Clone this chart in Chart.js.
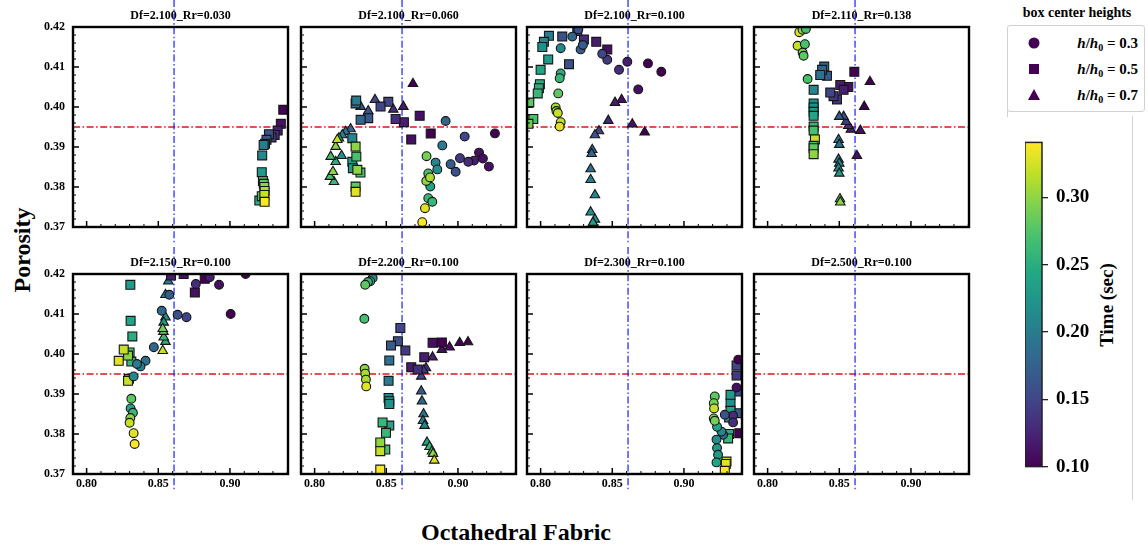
<!DOCTYPE html>
<html lang="en">
<head>
<meta charset="UTF-8">
<title>Porosity vs Octahedral Fabric</title>
<script src="https://cdn.jsdelivr.net/npm/chart.js"></script>
<style>
  body {
    margin: 0;
    width: 1148px;
    height: 548px;
    position: relative;
    overflow: hidden;
    background: #fff;
    font-family: "Liberation Serif", "Times New Roman", serif;
    font-weight: bold;
    color: #000;
  }
  canvas { position: absolute; }
  .label { position: absolute; white-space: nowrap; text-align: center; }
  #ylabel { left: -38px; top: 236px; width: 120px; font-size: 24px; line-height: 28px; transform: rotate(-90deg); }
  #xlabel { left: 366px; top: 518px; width: 300px; font-size: 24px; line-height: 28px; }
  #cblabel { left: 1047px; top: 294px; width: 120px; font-size: 19px; line-height: 22px; transform: rotate(-90deg); }
  #legendTitle { left: 1007px; top: 4px; width: 140px; font-size: 14px; line-height: 18px; }
  #legendBox {
    position: absolute; left: 1007px; top: 25px; width: 136px; height: 85px;
    border: 1px solid #d2d2d2; border-radius: 3px;
  }
  .entry { position: absolute; left: 0; width: 130px; height: 20px; }
  .entry svg { position: absolute; left: 18px; top: 2px; }
  .entry span { position: absolute; right: 0; top: 0; font-size: 15px; line-height: 20px; }
  .entry sub { font-size: 10px; vertical-align: -3px; line-height: 0; }
  .rule { position: absolute; background: #d2d2d2; width: 1px; }
</style>
</head>
<body>
<div class="label" id="ylabel">Porosity</div>
<div class="label" id="xlabel">Octahedral Fabric</div>
<div class="label" id="cblabel">Time (sec)</div>

<div class="label" id="legendTitle">box center heights</div>
<div id="legendBox">
  <div class="entry" style="top:7px">
    <svg width="16" height="16"><circle cx="8" cy="8" r="5.5" fill="#440154"/></svg>
    <span><i>h</i>/<i>h</i><sub>0</sub> = 0.3</span>
  </div>
  <div class="entry" style="top:33px">
    <svg width="16" height="16"><rect x="3" y="3" width="10" height="10" fill="#440154"/></svg>
    <span><i>h</i>/<i>h</i><sub>0</sub> = 0.5</span>
  </div>
  <div class="entry" style="top:59px">
    <svg width="16" height="16"><polygon points="8,2 14,13 2,13" fill="#440154"/></svg>
    <span><i>h</i>/<i>h</i><sub>0</sub> = 0.7</span>
  </div>
</div>
<div class="rule" style="left:1007px; top:110px; height:7px"></div>
<div class="rule" style="left:1132px; top:116px; height:384px"></div>

<script>
// axis ranges and ticks shared by all panels
const xRange = [0.7905, 0.9405];
const yRange = [0.37, 0.42];
const fabricTicks = [0.80, 0.85, 0.90];
const porosityTicks = [0.37, 0.38, 0.39, 0.40, 0.41, 0.42];
const refPorosity = 0.395;
const refFabric = 0.861;

// colour scale (time in seconds)
const timeRange = [0.10, 0.341];
const timeTicks = [0.10, 0.15, 0.20, 0.25, 0.30];

const panelTitles = [
  'Df=2.100_Rr=0.030', 'Df=2.100_Rr=0.060', 'Df=2.100_Rr=0.100', 'Df=2.110_Rr=0.138',
  'Df=2.150_Rr=0.100', 'Df=2.200_Rr=0.100', 'Df=2.300_Rr=0.100', 'Df=2.500_Rr=0.100'
];

// [fabric, porosity, time] per sample; circle h/h0=0.3, square 0.5, triangle 0.7
const p1Square = [
  [0.9372,0.3993,0.10],[0.9355,0.3958,0.11],[0.9333,0.3941,0.12],[0.9312,0.3930,0.13],
  [0.9290,0.3924,0.14],[0.9272,0.3932,0.16],[0.9255,0.3918,0.17],[0.9245,0.3908,0.19],
  [0.9235,0.3905,0.20],[0.9225,0.3879,0.21],[0.9222,0.3837,0.23],[0.9230,0.3815,0.26],
  [0.9236,0.3808,0.28],[0.9240,0.3800,0.30],[0.9242,0.3790,0.31],[0.9205,0.3766,0.25],
  [0.9222,0.3777,0.27],[0.9240,0.3780,0.32],[0.9242,0.3763,0.34]
];

const p2Circle = [
  [0.9258,0.3934,0.10],[0.9147,0.3886,0.11],[0.9174,0.3871,0.11],[0.9216,0.3851,0.11],
  [0.9112,0.3866,0.12],[0.9072,0.3863,0.13],[0.9014,0.3872,0.14],[0.9047,0.3926,0.15],
  [0.8984,0.3838,0.16],[0.8949,0.3857,0.17],[0.8914,0.3965,0.18],[0.8891,0.3904,0.20],
  [0.8844,0.3861,0.21],[0.8856,0.3844,0.22],[0.8807,0.3801,0.24],[0.8793,0.3772,0.26],
  [0.8821,0.3763,0.26],[0.8793,0.3834,0.27],[0.8781,0.3877,0.29],[0.8779,0.3815,0.30],
  [0.8805,0.3824,0.31],[0.8770,0.3747,0.33],[0.8751,0.3712,0.34]
];
const p2Square = [
  [0.8810,0.3934,0.10],[0.8733,0.3978,0.11],[0.8674,0.3919,0.11],[0.8623,0.3962,0.12],
  [0.8565,0.3970,0.13],[0.8514,0.4013,0.15],[0.8460,0.4001,0.15],[0.8374,0.3972,0.17],
  [0.8321,0.3968,0.18],[0.8286,0.4009,0.19],[0.8290,0.4016,0.20],[0.8263,0.3922,0.21],
  [0.8263,0.3863,0.23],[0.8267,0.3847,0.23],[0.8291,0.3876,0.27],[0.8320,0.3836,0.27],
  [0.8286,0.3801,0.28],[0.8286,0.3901,0.30],[0.8298,0.3843,0.30],[0.8286,0.3788,0.33]
];
const p2Triangle = [
  [0.8686,0.4058,0.10],[0.8619,0.4001,0.12],[0.8549,0.3994,0.13],[0.8421,0.4018,0.15],
  [0.8374,0.3990,0.16],[0.8321,0.4001,0.17],[0.8251,0.3945,0.18],[0.8216,0.3938,0.19],
  [0.8193,0.3930,0.20],[0.8170,0.3922,0.22],[0.8188,0.3878,0.22],[0.8147,0.3863,0.25],
  [0.8112,0.3876,0.27],[0.8135,0.3813,0.26],[0.8107,0.3826,0.27],[0.8128,0.3838,0.30],
  [0.8147,0.3901,0.30],[0.8158,0.3918,0.32]
];

const p3Circle = [
  [0.8842,0.4088,0.10],[0.8749,0.4109,0.10],[0.8681,0.4044,0.11],[0.8605,0.4113,0.12],
  [0.8547,0.4093,0.13],[0.8465,0.4118,0.14],[0.8430,0.4133,0.15],[0.8263,0.4194,0.16],
  [0.8279,0.4144,0.17],[0.8295,0.4155,0.17],[0.8221,0.4176,0.18],[0.8140,0.4147,0.21],
  [0.8140,0.4084,0.25],[0.8133,0.4072,0.26],[0.8123,0.4034,0.28],[0.8105,0.3999,0.31],
  [0.8110,0.3990,0.30],[0.8120,0.3985,0.32],[0.8140,0.3962,0.32],[0.8133,0.3951,0.33]
];
const p3Square = [
  [0.8465,0.4144,0.11],[0.8388,0.4163,0.12],[0.8302,0.4169,0.13],[0.8256,0.4190,0.14],
  [0.8151,0.4176,0.16],[0.8198,0.4107,0.16],[0.8058,0.4178,0.20],[0.8023,0.4163,0.21],
  [0.8012,0.4150,0.22],[0.8053,0.4119,0.23],[0.8000,0.4093,0.24],[0.7995,0.4057,0.25],
  [0.7988,0.4047,0.25],[0.7980,0.4034,0.26],[0.7949,0.3970,0.27],[0.7921,0.4011,0.28],
  [0.7915,0.3958,0.29]
];
const p3Triangle = [
  [0.8726,0.3937,0.10],[0.8640,0.3957,0.11],[0.8565,0.4018,0.11],[0.8519,0.4011,0.12],
  [0.8472,0.3966,0.13],[0.8407,0.3940,0.15],[0.8379,0.3930,0.16],[0.8360,0.3893,0.18],
  [0.8356,0.3883,0.18],[0.8349,0.3845,0.19],[0.8349,0.3818,0.20],[0.8379,0.3780,0.21],
  [0.8349,0.3737,0.22],[0.8379,0.3719,0.22],[0.8365,0.3711,0.23]
];

const p4Circle = [
  [0.8221,0.4187,0.33],[0.8244,0.4193,0.30],[0.8267,0.4195,0.27],[0.8209,0.4153,0.32],
  [0.8260,0.4157,0.27],[0.8244,0.4136,0.29],[0.8251,0.4128,0.28],[0.8279,0.4070,0.27]
];
const p4Square = [
  [0.8605,0.4088,0.10],[0.8563,0.4050,0.11],[0.8507,0.4055,0.12],[0.8530,0.4043,0.12],
  [0.8484,0.4019,0.14],[0.8460,0.4027,0.14],[0.8437,0.4036,0.15],[0.8414,0.4078,0.17],
  [0.8395,0.4101,0.18],[0.8380,0.4093,0.18],[0.8367,0.4080,0.19],[0.8321,0.4043,0.21],
  [0.8321,0.4009,0.22],[0.8321,0.3999,0.22],[0.8321,0.3988,0.23],[0.8321,0.3978,0.24],
  [0.8321,0.3951,0.26],[0.8321,0.3941,0.27],[0.8330,0.3919,0.32],[0.8321,0.3903,0.27],
  [0.8321,0.3897,0.28],[0.8321,0.3882,0.30]
];
const p4Triangle = [
  [0.8714,0.4063,0.10],[0.8674,0.4001,0.10],[0.8647,0.3941,0.11],[0.8623,0.3878,0.11],
  [0.8581,0.3944,0.12],[0.8563,0.3953,0.13],[0.8547,0.3963,0.14],[0.8530,0.3976,0.16],
  [0.8500,0.3976,0.17],[0.8495,0.3918,0.19],[0.8500,0.3906,0.19],[0.8495,0.3869,0.20],
  [0.8500,0.3859,0.21],[0.8495,0.3847,0.22],[0.8500,0.3834,0.23],[0.8505,0.3770,0.29],
  [0.8507,0.3762,0.30]
];

const p5Circle = [
  [0.9109,0.4200,0.10],[0.9005,0.4100,0.10],[0.8924,0.4173,0.11],[0.8859,0.4192,0.12],
  [0.8762,0.4175,0.13],[0.8697,0.4092,0.15],[0.8635,0.4098,0.16],[0.8577,0.4148,0.17],
  [0.8524,0.4108,0.18],[0.8469,0.4017,0.18],[0.8411,0.3983,0.19],[0.8376,0.3969,0.20],
  [0.8351,0.3975,0.20],[0.8328,0.3944,0.21],[0.8307,0.3864,0.24],[0.8323,0.3853,0.26],
  [0.8312,0.3888,0.28],[0.8305,0.3840,0.30],[0.8300,0.3828,0.32],[0.8328,0.3802,0.33],
  [0.8335,0.3775,0.34]
];
const p5Square = [
  [0.8824,0.4188,0.10],[0.8677,0.4200,0.11],[0.8755,0.4154,0.11],[0.8589,0.4196,0.12],
  [0.8305,0.4173,0.23],[0.8307,0.4083,0.24],[0.8319,0.4044,0.25],[0.8312,0.3981,0.26],
  [0.8300,0.4004,0.27],[0.8295,0.3938,0.27],[0.8289,0.3996,0.30],[0.8259,0.4011,0.32],
  [0.8289,0.3933,0.32],[0.8224,0.3983,0.33]
];
const p5Triangle = [
  [0.8570,0.4182,0.20],[0.8550,0.4148,0.21],[0.8550,0.4092,0.22],[0.8538,0.4079,0.23],
  [0.8550,0.4031,0.25],[0.8538,0.4042,0.26],[0.8536,0.4056,0.28],[0.8531,0.4063,0.29],
  [0.8531,0.4008,0.32]
];

const p6Circle = [
  [0.8405,0.4190,0.22],[0.8388,0.4182,0.24],[0.8372,0.4180,0.26],[0.8353,0.4173,0.28],
  [0.8347,0.4088,0.27],[0.8349,0.3963,0.30],[0.8353,0.3951,0.31],[0.8358,0.3936,0.31],
  [0.8360,0.3919,0.33]
];
const p6Square = [
  [0.8888,0.4029,0.10],[0.8823,0.4028,0.11],[0.8765,0.3992,0.12],[0.8674,0.3967,0.12],
  [0.8719,0.3961,0.13],[0.8633,0.4009,0.14],[0.8598,0.4065,0.15],[0.8581,0.4032,0.16],
  [0.8533,0.4021,0.17],[0.8521,0.3984,0.19],[0.8516,0.3933,0.20],[0.8516,0.3890,0.21],
  [0.8521,0.3882,0.22],[0.8521,0.3875,0.22],[0.8521,0.3821,0.24],[0.8474,0.3829,0.26],
  [0.8498,0.3803,0.26],[0.8493,0.3761,0.27],[0.8458,0.3779,0.30],[0.8458,0.3757,0.32],
  [0.8458,0.3711,0.34]
];
const p6Triangle = [
  [0.9070,0.4030,0.10],[0.9012,0.4028,0.10],[0.8942,0.4017,0.11],[0.8888,0.4011,0.11],
  [0.8823,0.3992,0.12],[0.8777,0.3965,0.13],[0.8760,0.3959,0.14],[0.8744,0.3944,0.15],
  [0.8744,0.3907,0.17],[0.8749,0.3882,0.18],[0.8760,0.3850,0.19],[0.8756,0.3833,0.20],
  [0.8767,0.3821,0.21],[0.8784,0.3779,0.24],[0.8802,0.3768,0.26],[0.8819,0.3757,0.28],
  [0.8826,0.3751,0.30],[0.8835,0.3734,0.33]
];

const p7Circle = [
  [0.9379,0.3986,0.10],[0.9367,0.3916,0.11],[0.9343,0.3846,0.13],[0.9343,0.3829,0.13],
  [0.9285,0.3848,0.16],[0.9273,0.3798,0.18],[0.9262,0.3806,0.21],[0.9227,0.3786,0.22],
  [0.9231,0.3765,0.23],[0.9238,0.3748,0.23],[0.9227,0.3729,0.24],[0.9231,0.3818,0.24],
  [0.9215,0.3894,0.28],[0.9208,0.3877,0.29],[0.9208,0.3839,0.30],[0.9215,0.3833,0.29],
  [0.9210,0.3864,0.32]
];
const p7Square = [
  [0.9386,0.3802,0.10],[0.9367,0.3946,0.14],[0.9367,0.3971,0.15],[0.9379,0.3906,0.16],
  [0.9379,0.3852,0.17],[0.9315,0.3841,0.21],[0.9325,0.3877,0.22],[0.9325,0.3898,0.23],
  [0.9325,0.3858,0.24],[0.9315,0.3800,0.25],[0.9308,0.3789,0.26],[0.9297,0.3731,0.32],
  [0.9292,0.3725,0.33],[0.9285,0.3708,0.34]
];

const panels = [
  [[], p1Square, []],
  [p2Circle, p2Square, p2Triangle],
  [p3Circle, p3Square, p3Triangle],
  [p4Circle, p4Square, p4Triangle],
  [p5Circle, p5Square, p5Triangle],
  [p6Circle, p6Square, p6Triangle],
  [p7Circle, p7Square, []],
  [[], [], []]
];

// plot-area placement on the page
const colLeft = [73, 301, 527, 754];
const rowTop = [27, 274];
const plotW = 215, plotH = 200;
const padL = 50, padT = 27, padR = 8, padB = 22;

const serif = '"Liberation Serif", "Times New Roman", serif';
Chart.defaults.font.family = serif;
Chart.defaults.color = '#000';

const viridisStops = ['#440154', '#482475', '#414487', '#355f8d', '#2a788e', '#21918c',
                      '#22a884', '#44bf70', '#7ad151', '#bddf26', '#fde725'];
function hexRgb(h) {
  return [1, 3, 5].map(i => parseInt(h.slice(i, i + 2), 16));
}
const viridisRgb = viridisStops.map(hexRgb);
function viridis(f) {
  f = Math.min(1, Math.max(0, f));
  const p = f * (viridisRgb.length - 1);
  const i = Math.min(Math.floor(p), viridisRgb.length - 2);
  const w = p - i;
  const c = viridisRgb[i].map((v, k) => Math.round(v + (viridisRgb[i + 1][k] - v) * w));
  return `rgb(${c[0]},${c[1]},${c[2]})`;
}
function timeColor(t) {
  return viridis((t - timeRange[0]) / (timeRange[1] - timeRange[0]));
}

function markerSet(rows, style, radius) {
  return {
    data: rows.map(r => ({ x: r[0], y: r[1], t: r[2] })),
    pointStyle: style,
    pointRadius: radius,
    pointHoverRadius: radius,
    pointBackgroundColor: c => (c.raw ? timeColor(c.raw.t) : '#000'),
    pointBorderColor: '#151515',
    pointBorderWidth: 1.1,
    showLine: false
  };
}

function strokeLine(ctx, x1, y1, x2, y2) {
  ctx.beginPath();
  ctx.moveTo(x1, y1);
  ctx.lineTo(x2, y2);
  ctx.stroke();
}

// title, reference lines, inward ticks and the frame of a panel
function panelDecor(title) {
  return {
    id: 'panelDecor',
    beforeDatasetsDraw(chart) {
      const { ctx, chartArea: a, scales: { x, y } } = chart;
      ctx.save();
      ctx.fillStyle = '#000';
      ctx.font = 'bold 12px ' + serif;
      ctx.textAlign = 'center';
      ctx.textBaseline = 'middle';
      ctx.fillText(title, (a.left + a.right) / 2, a.top - 11);

      ctx.lineWidth = 1.4;
      ctx.setLineDash([7, 2.5, 1.6, 2.5]);
      ctx.strokeStyle = '#d7191c';
      const py = y.getPixelForValue(refPorosity);
      strokeLine(ctx, a.left, py, a.right, py);
      ctx.strokeStyle = 'rgba(20,30,255,0.85)';
      const px = x.getPixelForValue(refFabric);
      strokeLine(ctx, px, a.top - 27, px, a.bottom + 16);
      ctx.restore();
    },
    afterDatasetsDraw(chart) {
      const { ctx, chartArea: a, scales: { x, y } } = chart;
      ctx.save();
      ctx.strokeStyle = '#000';
      // porosity ticks: majors from the list, four minors between
      for (let k = 0; k < porosityTicks.length; k++) {
        for (let m = 0; m < 5; m++) {
          if (m > 0 && k === porosityTicks.length - 1) break;
          const v = porosityTicks[k] + m * 0.002;
          const py = y.getPixelForValue(v);
          ctx.lineWidth = m === 0 ? 1.5 : 1;
          strokeLine(ctx, a.left, py, a.left + (m === 0 ? 6 : 3), py);
        }
      }
      // fabric ticks: majors every 0.05, minors every 0.01
      for (let k = -1; k < fabricTicks.length; k++) {
        const base = k < 0 ? fabricTicks[0] - 0.05 : fabricTicks[k];
        for (let m = 0; m < 5; m++) {
          const v = base + m * 0.01;
          if (v < x.min || v > x.max) continue;
          const px = x.getPixelForValue(v);
          ctx.lineWidth = m === 0 ? 1.5 : 1;
          strokeLine(ctx, px, a.bottom, px, a.bottom - (m === 0 ? 6 : 3));
        }
      }
      ctx.lineWidth = 2.4;
      ctx.strokeRect(a.left, a.top, a.right - a.left, a.bottom - a.top);
      ctx.restore();
    }
  };
}

function makePanel(i) {
  const col = i % 4, row = Math.floor(i / 4);
  const canvas = document.createElement('canvas');
  const w = padL + plotW + padR, h = padT + plotH + padB;
  canvas.width = w;
  canvas.height = h;
  canvas.style.width = w + 'px';
  canvas.style.height = h + 'px';
  canvas.style.left = (colLeft[col] - padL) + 'px';
  canvas.style.top = (rowTop[row] - padT) + 'px';
  document.body.appendChild(canvas);

  const [circles, squares, triangles] = panels[i];
  const tickFont = { family: serif, size: 12, weight: 'bold' };

  new Chart(canvas, {
    type: 'scatter',
    data: {
      datasets: [
        markerSet(circles, 'circle', 4.4),
        markerSet(squares, 'rect', 6.3),
        markerSet(triangles, 'triangle', 5.5)
      ]
    },
    options: {
      responsive: false,
      animation: false,
      events: [],
      layout: { padding: { top: padT, right: padR, left: 0, bottom: 0 }, autoPadding: false },
      plugins: { legend: { display: false }, tooltip: { enabled: false } },
      scales: {
        x: {
          type: 'linear',
          min: xRange[0],
          max: xRange[1],
          afterBuildTicks: s => { s.ticks = fabricTicks.map(v => ({ value: v })); },
          afterFit: s => { s.height = padB; },
          grid: { display: false, drawTicks: false },
          border: { display: false },
          ticks: {
            display: row === 1,
            autoSkip: false,
            maxRotation: 0,
            padding: 3,
            font: tickFont,
            color: '#000',
            callback: v => v.toFixed(2)
          }
        },
        y: {
          type: 'linear',
          min: yRange[0],
          max: yRange[1],
          afterBuildTicks: s => { s.ticks = porosityTicks.map(v => ({ value: v })); },
          afterFit: s => { s.width = padL; },
          grid: { display: false, drawTicks: false },
          border: { display: false },
          ticks: {
            display: col === 0,
            autoSkip: false,
            padding: 8,
            font: tickFont,
            color: '#000',
            callback: v => v.toFixed(2)
          }
        }
      }
    },
    plugins: [panelDecor(panelTitles[i])]
  });
}

for (let i = 0; i < panels.length; i++) makePanel(i);

// colour bar drawn on its own time axis
const cbArea = { left: 1025, top: 137, width: 17, height: 335 };
const cbPadT = 14, cbPadB = 14, cbAxisW = 70;
const cbCanvas = document.createElement('canvas');
cbCanvas.width = cbArea.width + cbAxisW;
cbCanvas.height = cbArea.height + cbPadT + cbPadB;
cbCanvas.style.width = cbCanvas.width + 'px';
cbCanvas.style.height = cbCanvas.height + 'px';
cbCanvas.style.left = cbArea.left + 'px';
cbCanvas.style.top = (cbArea.top - cbPadT) + 'px';
document.body.appendChild(cbCanvas);

const colorbarFill = {
  id: 'colorbarFill',
  beforeDatasetsDraw(chart) {
    const { ctx, chartArea: a, scales: { y } } = chart;
    const y0 = y.getPixelForValue(timeRange[0]);
    const y1 = y.getPixelForValue(timeRange[1]);
    const grad = ctx.createLinearGradient(0, y0, 0, y1);
    for (let s = 0; s <= 20; s++) grad.addColorStop(s / 20, viridis(s / 20));
    ctx.save();
    ctx.fillStyle = grad;
    ctx.fillRect(a.left, y1, a.right - a.left, y0 - y1);
    ctx.strokeStyle = '#222';
    ctx.lineWidth = 1.5;
    ctx.strokeRect(a.left, y1, a.right - a.left, y0 - y1);
    ctx.restore();
  }
};

new Chart(cbCanvas, {
  type: 'scatter',
  data: { datasets: [{ data: [] }] },
  options: {
    responsive: false,
    animation: false,
    events: [],
    layout: { padding: { top: cbPadT, bottom: cbPadB, left: 0, right: 0 }, autoPadding: false },
    plugins: { legend: { display: false }, tooltip: { enabled: false } },
    scales: {
      x: { display: false, min: 0, max: 1 },
      y: {
        position: 'right',
        min: timeRange[0],
        max: timeRange[1],
        afterBuildTicks: s => { s.ticks = timeTicks.map(v => ({ value: v })); },
        afterFit: s => { s.width = cbAxisW; },
        grid: { display: true, drawOnChartArea: false, drawTicks: true, tickLength: 6, color: '#222', lineWidth: 1.3 },
        border: { display: false },
        ticks: {
          autoSkip: false,
          padding: 8,
          font: { family: serif, size: 19, weight: 'bold' },
          color: '#000',
          callback: v => v.toFixed(2)
        }
      }
    }
  },
  plugins: [colorbarFill]
});
</script>
</body>
</html>
